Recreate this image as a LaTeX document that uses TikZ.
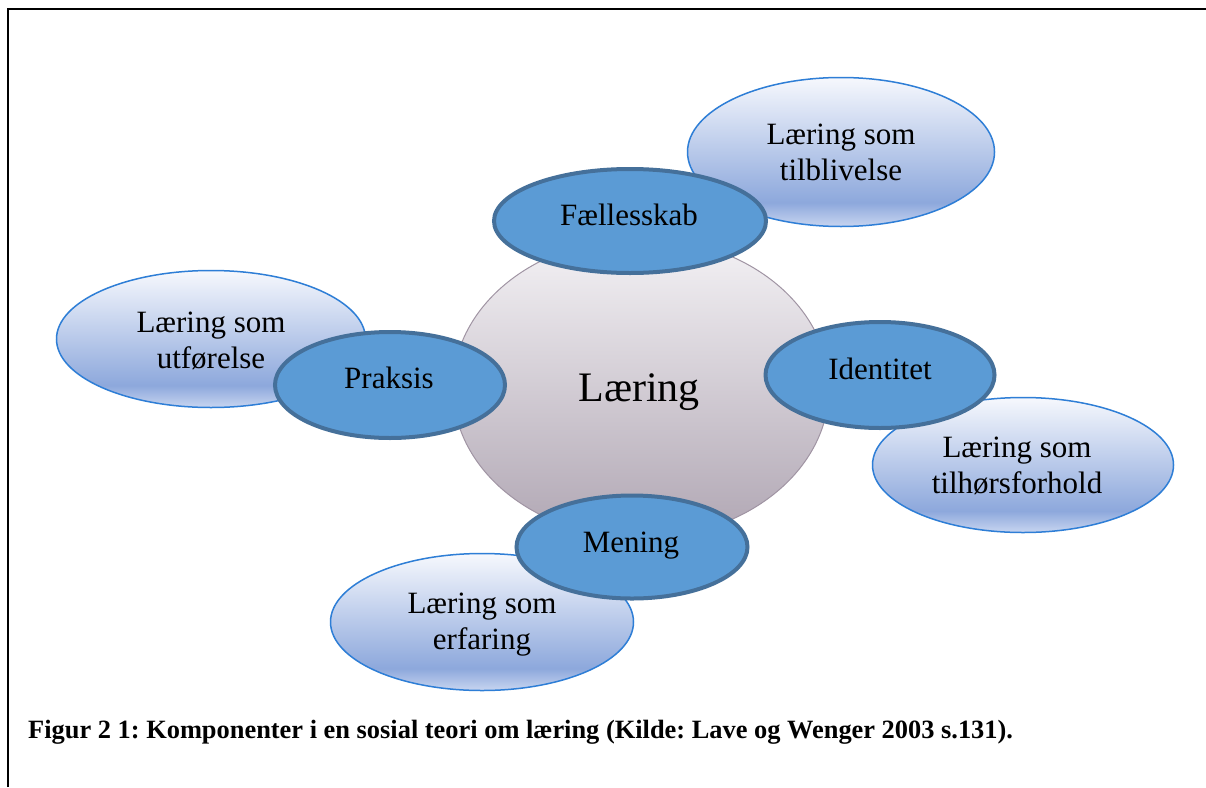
\documentclass[tikz,border=0pt]{standalone}
\usepackage{fontspec}
\setmainfont{Liberation Serif}
\usetikzlibrary{shapes.geometric}
\frenchspacing
\definecolor{lbTop}{RGB}{246,248,253}
\definecolor{lbMid}{RGB}{141,168,220}
\definecolor{lbBot}{RGB}{200,213,240}
\definecolor{lbLine}{RGB}{46,126,214}
\definecolor{grTop}{RGB}{244,242,245}
\definecolor{grBot}{RGB}{176,166,179}
\definecolor{grLine}{RGB}{160,148,163}
\definecolor{dkFill}{RGB}{91,155,213}
\definecolor{dkLine}{RGB}{69,112,154}
\pgfdeclareverticalshading{lightblueshade}{100bp}{color(0bp)=(lbBot); color(25bp)=(lbBot); color(33bp)=(lbMid); color(75bp)=(lbTop); color(100bp)=(lbTop)}
\pgfdeclareverticalshading{lightgrayshade}{100bp}{color(0bp)=(grBot); color(25bp)=(grBot); color(75bp)=(grTop); color(100bp)=(grTop)}
\tikzset{
  lightell/.style={ellipse, inner sep=0pt, draw=lbLine, line width=1.5pt, shading=lightblueshade},
  darkell/.style={ellipse, inner sep=0pt, draw=dkLine, fill=dkFill, line width=4pt},
  grayell/.style={ellipse, inner sep=0pt, draw=grLine, line width=1pt, shading=lightgrayshade},
  lbl/.style={inner sep=0pt, anchor=base, font=\fontsize{31}{36}\selectfont},
}
\newcommand{\twolines}[2]{\begin{tabular}[t]{@{}c@{}}#1\\#2\end{tabular}}
\begin{document}
\begin{tikzpicture}[x=1pt,y=-1pt]
\useasboundingbox (0,0) rectangle (1206,787);
\fill[white] (0,0) rectangle (1206,787);
\draw[line width=2.8pt] (8,787) -- (8,9) -- (1206,9);
% centre
\node[grayell, minimum width=376pt, minimum height=300pt] (laering) at (641,388) {};
% outer light ellipses
\node[lightell, minimum width=307pt, minimum height=149pt] (tilbl) at (841,152) {};
\node[lightell, minimum width=309pt, minimum height=137pt] (utf) at (211,339) {};
\node[lightell, minimum width=301pt, minimum height=135pt] (tilh) at (1023,465) {};
\node[lightell, minimum width=303pt, minimum height=137pt] (erf) at (482,622) {};
% dark ellipses
\node[darkell, minimum width=272pt, minimum height=104pt] (faell) at (630,221) {};
\node[darkell, minimum width=230pt, minimum height=106pt] (praks) at (390,385) {};
\node[darkell, minimum width=229pt, minimum height=106pt] (ident) at (880,375) {};
\node[darkell, minimum width=231pt, minimum height=103pt] (mening) at (632,547) {};
% texts
\node[lbl] (tfaell) at (629,225) {Fællesskab};
\node[lbl] (tpraks) at (389,388) {Praksis};
\node[lbl] (tident) at (880,379) {Identitet};
\node[lbl] (tmening) at (631,552) {Mening};
\node[lbl, font=\fontsize{42}{48}\selectfont] (tlaering) at (639,401) {Læring};
\node[lbl] (ttilbl) at (841,144) {\twolines{Læring som}{tilblivelse}};
\node[lbl] (tutf) at (211,332) {\twolines{Læring som}{utførelse}};
\node[lbl] (ttilh) at (1017,457) {\twolines{Læring som}{tilhørsforhold}};
\node[lbl] (terf) at (482,613) {\twolines{Læring som}{erfaring}};
\node[inner sep=0pt, anchor=base west, font=\fontsize{26.4}{30}\selectfont\bfseries] (caption) at (28,738) {Figur 2 1: Komponenter i en sosial teori om læring (Kilde: Lave og Wenger 2003 s.131).};
\end{tikzpicture}
\end{document}
